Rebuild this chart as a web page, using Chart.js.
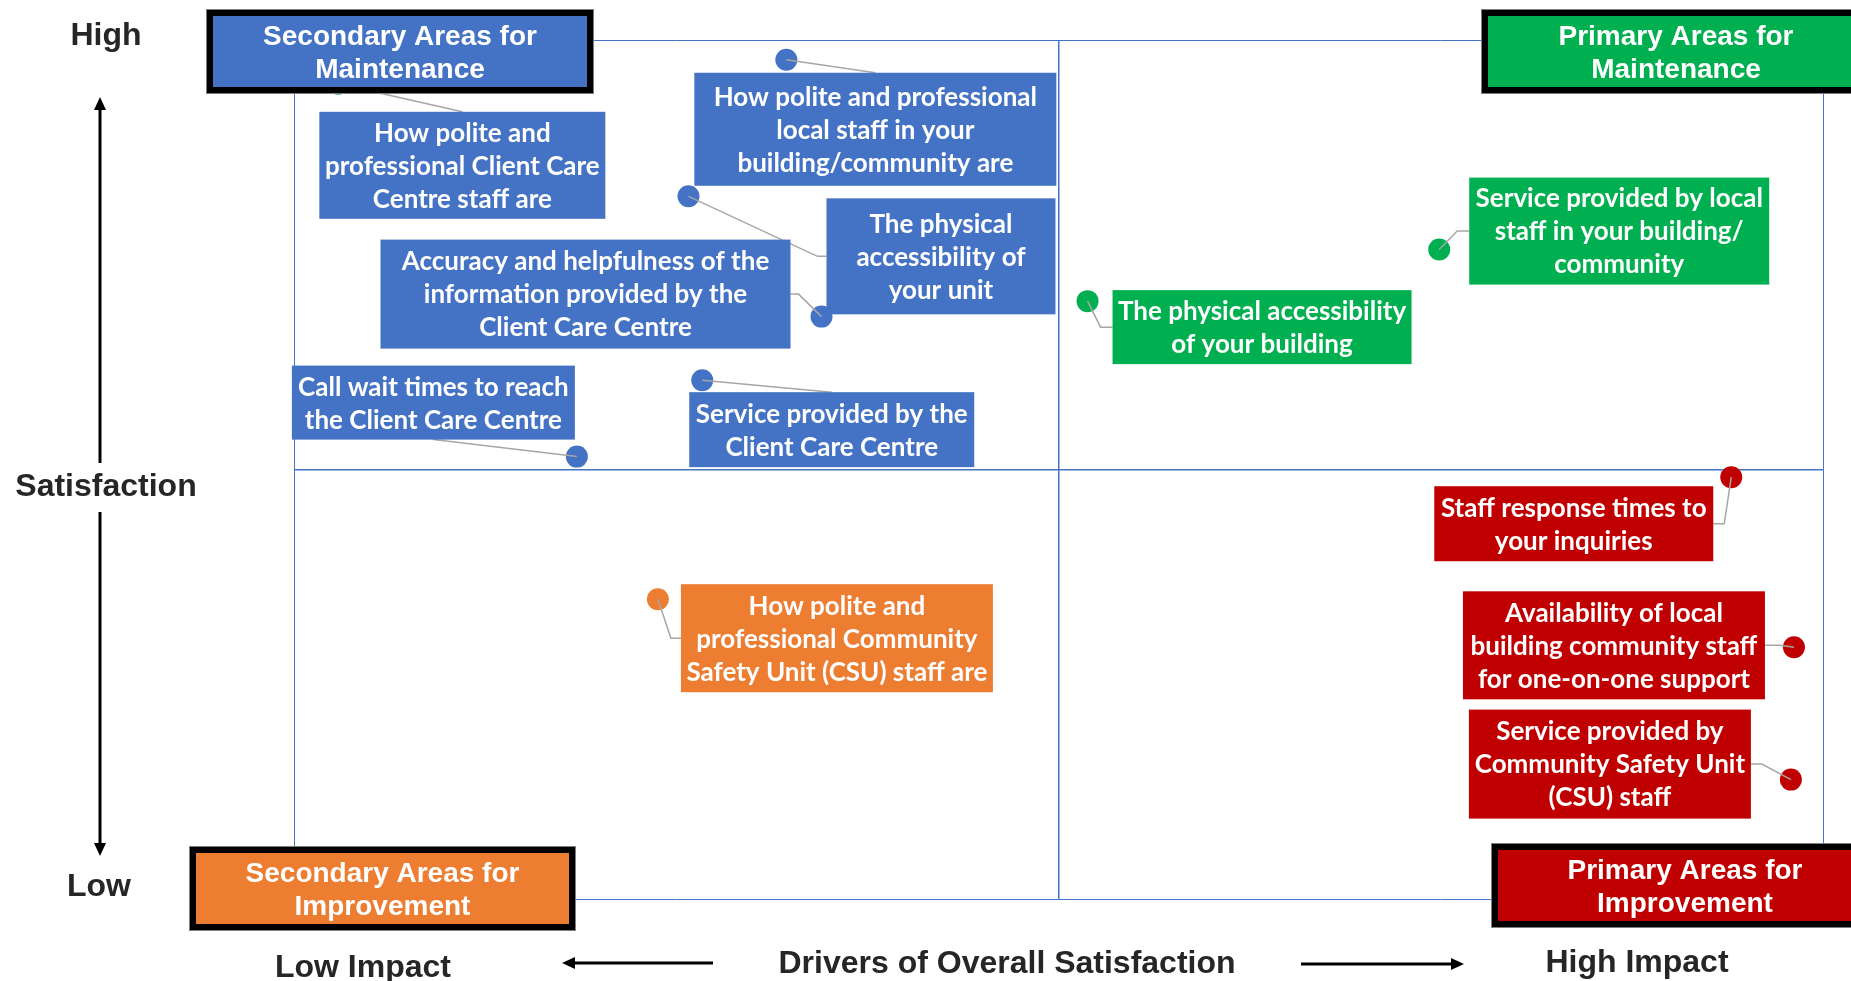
<!DOCTYPE html>
<html lang="en">
<head>
<meta charset="UTF-8" />
<title>Drivers of Overall Satisfaction</title>
<script src="https://cdn.jsdelivr.net/npm/chart.js"></script>
<style>
  html, body {
    margin: 0;
    padding: 0;
    background: #fff;
  }
  canvas { display: block; }
</style>
</head>
<body>

<canvas id="quadrant" width="1851" height="981"></canvas>

<script>
  // driver names, one per point (\n = line break in the label)
  const drivers = [
    "How polite and\nprofessional Client Care\nCentre staff are",
    "How polite and professional\nlocal staff in your\nbuilding/community are",
    "The physical\naccessibility of\nyour unit",
    "Accuracy and helpfulness of the\ninformation provided by the\nClient Care Centre",
    "Call wait times to reach\nthe Client Care Centre",
    "Service provided by the\nClient Care Centre",
    "Service provided by local\nstaff in your building/\ncommunity",
    "The physical accessibility\nof your building",
    "Staff response times to\nyour inquiries",
    "Availability of local\nbuilding community staff\nfor one-on-one support",
    "Service provided by\nCommunity Safety Unit\n(CSU) staff",
    "How polite and\nprofessional Community\nSafety Unit (CSU) staff are"
  ];

  // impact on overall satisfaction (x) and satisfaction (y), 0-100 index, midpoint 50
  const impact       = [2.9, 32.2, 25.8, 34.5, 18.5, 26.7, 74.9, 51.9, 94.0, 98.1, 97.9, 23.8];
  const satisfaction = [94.9, 97.7, 81.8, 67.8, 51.5, 60.4, 75.6, 69.6, 49.1, 29.3, 13.9, 34.9];

  const quadrantTitles = [
    "Secondary Areas for\nMaintenance",
    "Primary Areas for\nMaintenance",
    "Secondary Areas for\nImprovement",
    "Primary Areas for\nImprovement"
  ];

  // colours
  const BLUE = '#4472C4', GREEN = '#00B050', ORANGE = '#ED7D31', RED = '#C00000';
  const dotColors = [GREEN, BLUE, BLUE, BLUE, BLUE, BLUE, GREEN, GREEN, RED, RED, RED, ORANGE];
  const boxColors = [BLUE, BLUE, BLUE, BLUE, BLUE, BLUE, GREEN, GREEN, RED, RED, RED, ORANGE];

  // label box placement relative to its point (pixels), and where the leader line leaves the box
  const labelBoxes = [
    { dx: -19,  dy: 28,  w: 286, h: 107, side: 'top' },
    { dx: -92,  dy: 13,  w: 362, h: 113, side: 'top' },
    { dx: 138,  dy: 2,   w: 229, h: 116, side: 'left',  elbow: 9 },
    { dx: -441, dy: -77, w: 410, h: 109, side: 'right', elbow: 8 },
    { dx: -285, dy: -91, w: 283, h: 74,  side: 'bottom' },
    { dx: -13,  dy: 12,  w: 285, h: 75,  side: 'top' },
    { dx: 30,   dy: -72, w: 300, h: 107, side: 'left',  elbow: 12 },
    { dx: 25,   dy: -11, w: 299, h: 74,  side: 'left',  elbow: 12 },
    { dx: -297, dy: 9,   w: 279, h: 75,  side: 'right', elbow: 11 },
    { dx: -331, dy: -56, w: 302, h: 108, side: 'right', elbow: 15 },
    { dx: -322, dy: -70, w: 282, h: 109, side: 'right', elbow: 11 },
    { dx: 23,   dy: -15, w: 312, h: 108, side: 'left',  elbow: 10 }
  ];

  // corner title boxes (outer rect, px)
  const cornerBoxes = [
    { x: 206,  y: 9,   w: 388, h: 85, color: BLUE },
    { x: 1481, y: 9,   w: 390, h: 85, color: GREEN },
    { x: 189,  y: 846, w: 387, h: 85, color: ORANGE },
    { x: 1491, y: 843, w: 388, h: 85, color: RED }
  ];

  const AXIS_FONT = 'bold 32px "Liberation Sans", Arial, sans-serif';
  const AXIS_COLOR = '#262626';

  function arrow(ctx, x1, y1, x2, y2) {
    // line from (x1,y1) with head at (x2,y2)
    const ang = Math.atan2(y2 - y1, x2 - x1);
    const len = 13, half = 6;
    const bx = x2 - len * Math.cos(ang), by = y2 - len * Math.sin(ang);
    ctx.beginPath();
    ctx.moveTo(x1, y1);
    ctx.lineTo(bx, by);
    ctx.stroke();
    ctx.beginPath();
    ctx.moveTo(x2, y2);
    ctx.lineTo(bx + half * Math.sin(ang), by - half * Math.cos(ang));
    ctx.lineTo(bx - half * Math.sin(ang), by + half * Math.cos(ang));
    ctx.closePath();
    ctx.fill();
  }

  const annotations = {
    id: 'quadrantAnnotations',
    afterDatasetsDraw(chart) {
      const ctx = chart.ctx;
      const pts = chart.getDatasetMeta(0).data;
      ctx.save();

      // leader lines
      const boxes = pts.map((pt, i) => {
        const b = labelBoxes[i];
        return { x: pt.x + b.dx, y: pt.y + b.dy, w: b.w, h: b.h, side: b.side, elbow: b.elbow || 0, px: pt.x, py: pt.y };
      });
      ctx.strokeStyle = '#a6a6a6';
      ctx.lineWidth = 1.5;
      boxes.forEach(b => {
        let ax, ay, ex, ey;
        if (b.side === 'top')    { ax = b.x + b.w / 2; ay = b.y;       ex = ax; ey = ay; }
        if (b.side === 'bottom') { ax = b.x + b.w / 2; ay = b.y + b.h; ex = ax; ey = ay; }
        if (b.side === 'left')   { ax = b.x;       ay = b.y + b.h / 2; ex = ax - b.elbow; ey = ay; }
        if (b.side === 'right')  { ax = b.x + b.w; ay = b.y + b.h / 2; ex = ax + b.elbow; ey = ay; }
        ctx.beginPath();
        ctx.moveTo(ax, ay);
        ctx.lineTo(ex, ey);
        ctx.lineTo(b.px, b.py);
        ctx.stroke();
      });

      // label boxes
      ctx.textAlign = 'center';
      ctx.textBaseline = 'middle';
      ctx.font = 'bold 26px Lato, "Open Sans", sans-serif';
      boxes.forEach((b, i) => {
        ctx.fillStyle = boxColors[i];
        ctx.fillRect(b.x, b.y, b.w, b.h);
        ctx.fillStyle = '#fff';
        const lines = drivers[i].split('\n');
        lines.forEach((t, k) => {
          ctx.fillText(t, b.x + b.w / 2, b.y + b.h / 2 + 1 + (k - (lines.length - 1) / 2) * 33, b.w - 8);
        });
      });

      // corner quadrant titles
      ctx.font = 'bold 28px "Liberation Sans", Arial, sans-serif';
      cornerBoxes.forEach((c, i) => {
        ctx.fillStyle = '#7f7f7f';
        ctx.fillRect(c.x, c.y, c.w, c.h);
        ctx.fillStyle = '#000';
        ctx.fillRect(c.x + 1, c.y + 1, c.w - 2, c.h - 2);
        ctx.fillStyle = c.color;
        ctx.fillRect(c.x + 7, c.y + 7, c.w - 14, c.h - 14);
        ctx.fillStyle = '#fff';
        const lines = quadrantTitles[i].split('\n');
        const cx = c.x + c.w / 2, cy = c.y + c.h / 2;
        lines.forEach((t, k) => ctx.fillText(t, cx, cy + 2 + (k - 0.5) * 33));
      });

      // axis titles
      ctx.font = AXIS_FONT;
      ctx.fillStyle = AXIS_COLOR;
      ctx.textBaseline = 'alphabetic';
      ctx.fillText('High', 106, 45);
      ctx.fillText('Satisfaction', 106, 496);
      ctx.fillText('Low', 99, 896);
      ctx.fillText('Low Impact', 363, 977);
      ctx.fillText('Drivers of Overall Satisfaction', 1007, 973);
      ctx.fillText('High Impact', 1637, 972);

      // arrows
      ctx.strokeStyle = '#000';
      ctx.fillStyle = '#000';
      ctx.lineWidth = 3;
      arrow(ctx, 100, 463, 100, 97);
      arrow(ctx, 100, 512, 100, 856);
      arrow(ctx, 713, 963, 562, 963);
      arrow(ctx, 1301, 964, 1464, 964);

      ctx.restore();
    }
  };

  const gridWidth = (c) => (c.tick && c.tick.value === 50 ? 1.5 : 1);

  new Chart(document.getElementById('quadrant'), {
    type: 'scatter',
    data: {
      labels: drivers,
      datasets: [{
        data: impact.map((x, i) => ({ x: x, y: satisfaction[i] })),
        pointRadius: 11,
        pointHoverRadius: 11,
        pointBackgroundColor: dotColors,
        pointBorderColor: dotColors,
        pointBorderWidth: 0
      }]
    },
    options: {
      responsive: false,
      animation: false,
      devicePixelRatio: 1,
      events: [],
      layout: { padding: { left: 294, right: 28, top: 40, bottom: 82 } },
      plugins: {
        legend: { display: false },
        tooltip: { enabled: false }
      },
      scales: {
        x: {
          type: 'linear',
          min: 0, max: 100,
          ticks: { display: false, stepSize: 50 },
          grid: { color: BLUE, lineWidth: gridWidth, drawTicks: false, tickLength: 0 },
          border: { display: false },
          afterFit: (s) => { s.height = 0; }
        },
        y: {
          type: 'linear',
          min: 0, max: 100,
          ticks: { display: false, stepSize: 50 },
          grid: { color: BLUE, lineWidth: gridWidth, drawTicks: false, tickLength: 0 },
          border: { display: false },
          afterFit: (s) => { s.width = 0; }
        }
      }
    },
    plugins: [annotations]
  });
</script>

</body>
</html>
